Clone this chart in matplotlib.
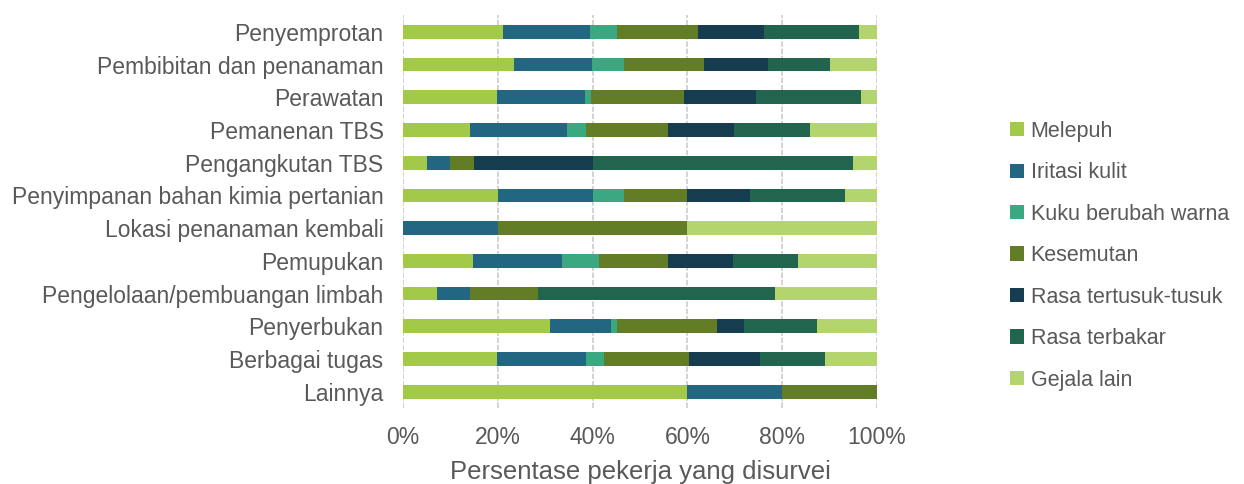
import numpy as np
import matplotlib.pyplot as plt

plt.rcParams['font.family'] = ['Liberation Sans', 'DejaVu Sans']

# Data (percentages per activity)
kategori = ["Penyemprotan", "Pembibitan dan penanaman", "Perawatan", "Pemanenan TBS",
            "Pengangkutan TBS", "Penyimpanan bahan kimia pertanian", "Lokasi penanaman kembali",
            "Pemupukan", "Pengelolaan/pembuangan limbah", "Penyerbukan", "Berbagai tugas", "Lainnya"]

gejala = ["Melepuh", "Iritasi kulit", "Kuku berubah warna", "Kesemutan",
          "Rasa tertusuk-tusuk", "Rasa terbakar", "Gejala lain"]

melepuh = [21.1, 23.4, 19.8, 14.1, 5.0, 20.0, 0, 14.7, 7.1, 30.9, 19.8, 60]
iritasi = [18.4, 16.5, 18.6, 20.4, 5.0, 20.0, 20, 18.8, 7.1, 13.0, 18.8, 20]
kuku = [5.7, 6.8, 1.2, 4.0, 0, 6.7, 0, 7.8, 0, 1.2, 3.9, 0]
kesemutan = [17.0, 16.8, 19.6, 17.3, 5.0, 13.3, 40, 14.7, 14.3, 21.2, 17.8, 20]
tertusuk = [14.0, 13.4, 15.3, 14.1, 25.0, 13.3, 0, 13.7, 0, 5.6, 15.0, 0]
terbakar = [19.9, 13.1, 22.2, 16.0, 55.0, 20.0, 0, 13.7, 50.0, 15.5, 13.7, 0]
lain = [3.9, 10.0, 3.3, 14.1, 5.0, 6.7, 40, 16.6, 21.5, 12.6, 11.0, 0]

series = [melepuh, iritasi, kuku, kesemutan, tertusuk, terbakar, lain]
warna = ["#A2C948", "#226682", "#3AA880", "#627D25", "#153D4F", "#22654E", "#B4D56E"]

fig = plt.figure(figsize=(12.44, 4.84), dpi=100)
ax = fig.add_axes([0.324, 0.157, 0.381, 0.811])

y = np.arange(len(kategori))
kiri = np.zeros(len(kategori))
for nama, nilai, c in zip(gejala, series, warna):
    nilai = np.array(nilai)
    ax.barh(y, nilai, left=kiri, height=0.42, color=c, label=nama, zorder=3)
    kiri += nilai

ax.set_ylim(len(kategori) - 0.5, -0.5)
ax.set_xlim(0, 100)
ax.set_yticks(y)
ax.set_yticklabels(kategori)
ax.set_xticks([0, 20, 40, 60, 80, 100])
ax.set_xticklabels(["0%", "20%", "40%", "60%", "80%", "100%"])
ax.tick_params(axis='both', length=0, labelsize=16.5, labelcolor="#595959")
ax.tick_params(axis='x', pad=13)
ax.tick_params(axis='y', pad=14)
for s in ax.spines.values():
    s.set_visible(False)
ax.grid(axis='x', color="#D0D0D0", linestyle=(0, (3, 1)), linewidth=1.3, zorder=0)
ax.set_xlabel("Persentase pekerja yang disurvei", fontsize=18.5, color="#595959", labelpad=8)

ax.legend(loc='center left', bbox_to_anchor=(1.24, 0.388), frameon=False,
          fontsize=15.5, labelcolor="#595959", handlelength=0.65, handleheight=0.65,
          handletextpad=0.3, labelspacing=0.95)

fig.savefig("out.png", dpi=100)
